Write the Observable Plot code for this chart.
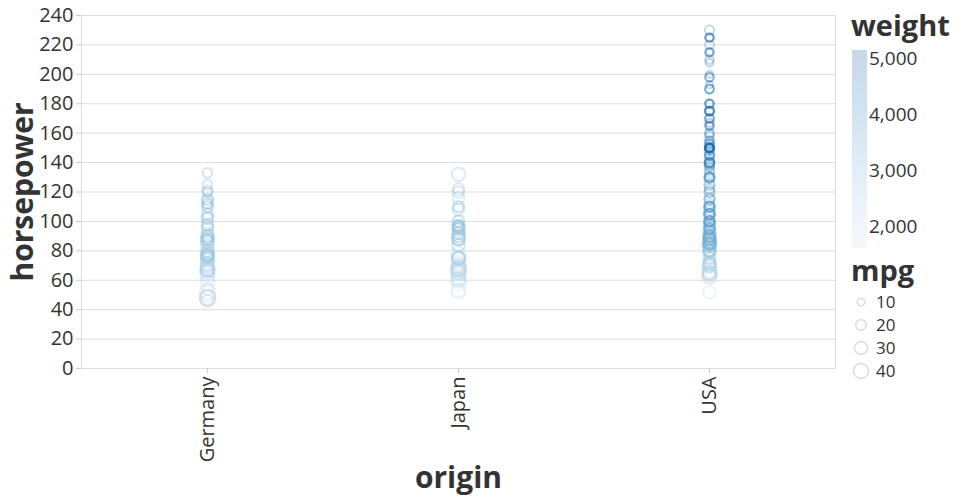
<!DOCTYPE html>
<html>
<head>
<meta charset="utf-8">
<script src="https://cdn.jsdelivr.net/npm/d3@7"></script>
<script src="https://cdn.jsdelivr.net/npm/@observablehq/plot@0.6"></script>
<style>
  body { margin: 0; background: white; font-family: 'Open Sans', sans-serif; }
  #wrap { position: relative; width: 960px; height: 500px; }
  #legend { position: absolute; left: 0; top: 0; }
</style>
</head>
<body>
<div id="wrap"></div>
<script>
const origins = ["Germany", "Japan", "USA"];
const yTicks = [0, 20, 40, 60, 80, 100, 120, 140, 160, 180, 200, 220, 240];
const weightTicks = [2000, 3000, 4000, 5000];
const mpgTicks = [10, 20, 30, 40];
const weightDomain = [1613, 5140];
const vegaBlues = ["#cfe1f2","#bed8ec","#a8cee5","#8fc1de","#74b2d7","#5ba3cf","#4592c6","#3181bd","#206fb2","#125ca4","#0a4a90"];

// [horsepower, weight, mpg]
const germanyCars = [
  [46,1835,26],[87,2672,25],[90,2430,24],[95,2375,25],[113,2234,26],[90,2123,28],
  [76,2065,30],[60,1834,27],[54,2254,23],[112,2868,19],[69,2189,26],[76,2511,22],
  [70,2074,30],[75,2246,26],[75,2158,24],[49,1867,29],[46,1950,26],[88,2130,25],
  [83,2219,29],[67,1963,26],[78,2300,24],[75,2108,24],[98,2945,22],[112,2933,18],
  [71,1990,29],[88,3270,19],[97,2545,23],[115,2694,20],[95,2320,24],[110,2600,21.5],
  [78,2200,26],[80,2164,25],[103,2830,20.3],[125,3140,17],[115,2795,21.6],[133,3410,16.2],
  [120,3820,16.5],[48,1985,43.1],[71,1925,31.5],[78,2190,30.5],[86,2220,30],[80,3230,28.1],
  [67,3250,30],[77,3530,25.4],[76,3160,30.7],[48,2085,44.3],[48,2335,43.4],[67,2950,36.4],
  [65,1975,37],[69,2130,37.3],[88,2500,35],[85,2190,29.8],[74,2635,29],[92,2620,25],
  [90,2670,27],[63,2051,34],[52,2130,44],[74,1980,36],[65,2045,32],[58,1755,39],
  [102,2150,26],[105,3040,22],[121,2760,20],[110,2720,21],[71,2000,33],[90,2265,26],
  [86,2300,28],[88,2400,27],[102,2585,24],[78,2190,31]
];
const japanCars = [
  [95,2372,24],[88,2130,27],[88,2130,27],[97,2130,24],[95,2228,25],[65,1773,31],
  [69,1613,35],[97,2288,22],[90,2264,28],[88,2100,28],[52,1649,31],[95,2278,24],
  [97,2506,18],[110,2660,20],[122,2807,23],[67,1950,29],[75,2171,24],[92,2434,23],
  [97,2254,24],[53,1795,33],[61,2003,31],[58,1755,39.1],[60,1800,36.1],[67,1985,33],
  [68,1845,32.3],[70,1990,31.4],[75,2215,29],[78,2065,32],[84,2380,27],[90,2420,27],
  [96,2702,20],[97,2575,22],[100,2615,22],[108,2930,23],[116,2670,25],[120,2930,23.9],
  [132,2910,32.7],[65,2110,34],[67,2000,32],[68,2135,30],[75,2350,30],[88,2720,27],
  [92,2565,26],[94,2379,28],[97,2300,25],[60,1760,36],[65,1965,32],[65,1975,37.2],
  [67,2000,34.1],[62,1945,35],[67,1965,46.6],[75,2210,33],[65,1850,40],[68,1970,38],
  [70,1990,35],[88,2160,30],[75,2045,34],[97,2380,27],[95,2515,24],[92,2255,30],
  [72,1990,33],[84,2370,31],[68,2025,36],[75,2125,32],[90,2210,30],[100,2735,24],
  [110,2665,24],[88,2245,29],[96,2300,28],[75,2265,31]
];
const usaCars = [
  [230,4278,16],[225,4951,11],[225,4425,14],[225,4906,12],[220,4354,14],[215,4312,14],
  [215,4735,12],[215,4499,10],[210,4382,13],[208,4633,11],[200,4376,9],[198,4341,15],
  [198,4952,12],[193,4732,9],[190,4209,14],[190,4457,12],[190,3850,15],[180,4499,12],
  [180,3664,15],[180,4380,13],[180,4220,11],[175,3850,14],[175,4464,13],[175,4385,14],
  [175,3645,16],[175,5140,13],[170,4746,12],[170,4154,14],[170,3563,15],[167,4906,12],
  [165,3693,16],[165,4274,12],[165,4668,11],[160,3609,14],[160,4456,13],[158,4440,14],
  [155,4360,13],[155,4098,13],[153,4154,14],[153,4135,13],[152,4215,14],[150,3761,15],
  [150,3433,16],[150,4096,14],[150,4098,13],[150,3940,13],[150,4457,12],[150,4699,11],
  [150,4077,14],[150,3672,17],[150,4190,13],[150,3892,15],[150,4668,12],[150,3962,15],
  [150,4140,15],[149,4098,14],[148,4335,13],[145,4055,13],[145,4082,15],[145,3988,16],
  [145,4140,16],[142,4054,15],[140,3449,17],[140,4237,14],[140,3449,16],[140,4141,15],
  [140,4080,18],[140,3735,16],[140,3900,15],[139,3755,17],[138,3955,16],[137,4042,14],
  [135,3830,17],[133,3880,16],[130,3504,18],[130,3840,15],[130,4060,14],[130,3102,19],
  [130,3735,18],[129,3725,16],[125,3425,17],[125,3900,19],[122,4100,16],[120,3425,17],
  [120,3962,18],[116,3230,19],[115,3245,20],[115,3785,17],[112,3279,18],[110,3632,18],
  [110,3620,18],[110,2962,20],[110,3360,17],[110,3645,17],[110,3021,20],[108,3085,20],
  [107,3012,18],[105,3459,21],[105,3535,19],[105,3381,20],[105,3613,19],[105,3897,19],
  [103,3039,20],[100,3336,19],[100,3278,19],[100,3781,18],[100,3329,19],[100,3282,18],
  [100,2945,21],[98,3525,19],[98,2800,21],[97,2984,21],[95,3193,22],[95,2833,19],
  [95,3329,19],[95,3630,19],[94,3070,21],[92,2711,24],[90,3265,23],[90,2950,24],
  [90,2678,24],[90,3070,24],[90,2870,25],[90,3210,23],[88,2740,26],[88,2890,23],
  [88,3302,20],[88,2640,27],[88,3139,23],[88,2720,27],[86,2790,27],[86,2600,24],
  [85,2587,21],[85,2855,27],[85,2990,25],[85,3465,25],[85,2965,26],[85,3015,22],
  [85,2835,24],[84,2295,27],[84,2635,27],[84,2525,31],[84,2370,28],[83,2542,27],
  [81,2372,29],[80,2670,26],[80,2755,22],[80,2542,26],[79,2625,28],[78,2300,25],
  [75,2585,26],[72,2158,24],[72,2565,26],[71,2300,30],[70,2245,28],[70,2120,30],
  [70,2070,34],[69,2135,28],[67,2130,36],[65,2380,30],[65,2020,34],[65,2045,35],
  [65,2190,37],[63,2125,34],[63,2050,32],[62,1800,38],[52,2035,29],[88,2605,28],
  [88,2660,28],[90,2705,28],[92,2575,32],[84,2120,38],[84,2385,32],[86,2860,26],
  [87,2385,27],[96,2802,22],[100,3060,19],[85,3070,21],[75,2401,22],[72,2290,26],
  [80,2870,25]
];

const rows = [];
[[origins[0], germanyCars], [origins[1], japanCars], [origins[2], usaCars]].forEach(([o, list]) => {
  list.forEach(([hp, weight, mpg]) => rows.push({origin: o, hp, weight, mpg}));
});

const chart = Plot.plot({
  width: 960, height: 500,
  marginLeft: 81, marginRight: 125, marginTop: 15, marginBottom: 132,
  style: {fontFamily: "'Open Sans', sans-serif", fontSize: "20px", color: "#333", background: "white"},
  x: {type: "point", domain: origins, padding: 0.5},
  y: {domain: [0, 240]},
  r: {type: "sqrt", domain: [0, 40], range: [0, 7.5]},
  color: {type: "linear", domain: weightDomain, interpolate: d3.interpolateRgbBasis(vegaBlues)},
  marks: [
    Plot.gridY(yTicks, {stroke: "#ddd", strokeOpacity: 1}),
    Plot.frame({stroke: "#ddd"}),
    Plot.axisY(yTicks, {tickSize: 5, tickPadding: 3, stroke: "#ccc", fill: "#333", fontSize: 20, label: null}),
    Plot.axisX({tickRotate: -90, tickSize: 5, tickPadding: 3, stroke: "#ccc", fill: "#333", fontSize: 20, label: null}),
    Plot.dot(rows, {x: "origin", y: "hp", r: "mpg", stroke: "weight", strokeWidth: 2, strokeOpacity: 0.28, fill: "none"}),
    Plot.text(["horsepower"], {frameAnchor: "left", textAnchor: "middle", dx: -58, rotate: -90, fontSize: 30, fontWeight: "bold", fill: "#333"}),
    Plot.text(["origin"], {frameAnchor: "bottom", textAnchor: "middle", dy: 119, fontSize: 30, fontWeight: "bold", fill: "#333"})
  ]
});
const wrap = document.getElementById("wrap");
wrap.appendChild(chart);

// Legends
const colorScale = chart.scale("color");
const rScale = chart.scale("r");
const svg = d3.select(wrap).append("svg").attr("id", "legend")
  .attr("width", 960).attr("height", 500)
  .style("font-family", "'Open Sans', sans-serif");

const gx = 852, gy0 = 50, gy1 = 248, gw = 15;
const defs = svg.append("defs");
const grad = defs.append("linearGradient").attr("id", "wgrad")
  .attr("x1", 0).attr("y1", 1).attr("x2", 0).attr("y2", 0);
d3.range(0, 1.0001, 0.1).forEach(t => {
  const v = weightDomain[0] + t * (weightDomain[1] - weightDomain[0]);
  grad.append("stop").attr("offset", t).attr("stop-color", colorScale.apply(v)).attr("stop-opacity", 0.22);
});
svg.append("text").attr("x", 851).attr("y", 36).text("weight")
  .attr("font-size", 29).attr("font-weight", "bold").attr("fill", "#333");
svg.append("rect").attr("x", gx).attr("y", gy0).attr("width", gw).attr("height", gy1 - gy0).attr("fill", "url(#wgrad)");
const wy = d3.scaleLinear().domain(weightDomain).range([gy1, gy0]);
weightTicks.forEach(v => {
  svg.append("text").attr("x", gx + gw + 2).attr("y", wy(v) + 7).text(d3.format(",")(v))
    .attr("font-size", 19).attr("fill", "#333");
});

svg.append("text").attr("x", 851).attr("y", 281).text("mpg")
  .attr("font-size", 29).attr("font-weight", "bold").attr("fill", "#333");
mpgTicks.forEach((v, i) => {
  const cy = 302 + i * 23;
  svg.append("circle").attr("cx", 861).attr("cy", cy).attr("r", rScale.apply(v))
    .attr("fill", "none").attr("stroke", "#888").attr("stroke-opacity", 0.3).attr("stroke-width", 1.5);
  svg.append("text").attr("x", 876).attr("y", cy + 6).text(v)
    .attr("font-size", 17).attr("fill", "#333");
});
</script>
</body>
</html>
